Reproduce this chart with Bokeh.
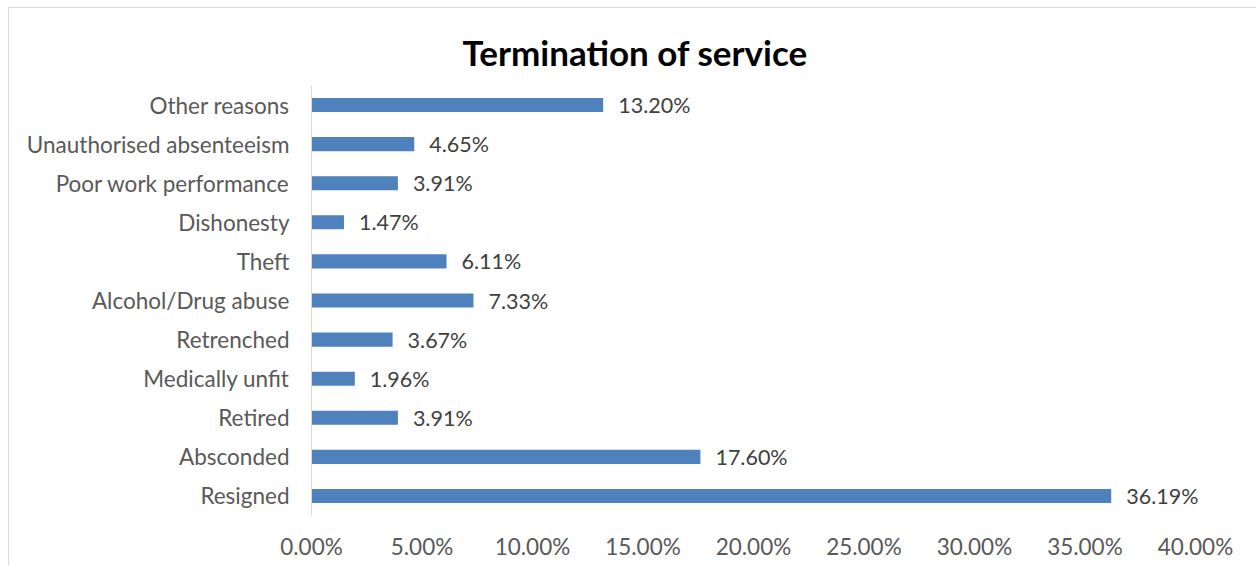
from bokeh.plotting import figure
from bokeh.models import ColumnDataSource, FactorRange, Range1d, FixedTicker, PrintfTickFormatter
from bokeh.core.properties import value
from bokeh.embed import file_html
from bokeh.resources import INLINE

# Data (bottom to top)
categories = ["Resigned", "Absconded", "Retired", "Medically unfit", "Retrenched",
              "Alcohol/Drug abuse", "Theft", "Dishonesty", "Poor work performance",
              "Unauthorised absenteeism", "Other reasons"]
values = [36.19, 17.60, 3.91, 1.96, 3.67, 7.33, 6.11, 1.47, 3.91, 4.65, 13.20]
labels = ["%.2f%%" % v for v in values]
x_ticks = [0, 5, 10, 15, 20, 25, 30, 35, 40]

FONT = "Lato"

src = ColumnDataSource(dict(cat=categories, val=values, lab=labels))

p = figure(width=1248, height=558, output_backend="svg", toolbar_location=None,
           y_range=FactorRange(*categories, range_padding=0), x_range=Range1d(0, 41),
           min_border_left=302, min_border_right=40, min_border_top=77, min_border_bottom=51,
           title="Termination of service")
p.styles = {"margin-left": "8px", "margin-top": "7px",
            "border-top": "1px solid #d9d9d9", "border-left": "1px solid #d9d9d9"}
p.outline_line_color = None
p.grid.visible = False

p.hbar(y="cat", right="val", left=0, height=0.36, source=src,
       fill_color="#4f81bd", line_color=None)
p.text(x="val", y="cat", text="lab", source=src, x_offset=15,
       text_align="left", text_baseline="middle", text_font=value(FONT),
       text_font_size="21.5px", text_color="#404040")

p.title.text_font = FONT
p.title.text_font_size = "35px"
p.title.text_font_style = "bold"
p.title.text_color = "#000000"
p.title.align = "left"
p.title.offset = 151
p.title.standoff = 26

ya = p.yaxis[0]
ya.axis_line_color = "#d9d9d9"
ya.major_tick_line_color = None
ya.minor_tick_line_color = None
ya.major_tick_out = 0
ya.major_tick_in = 0
ya.major_label_standoff = 22
ya.major_label_text_font = FONT
ya.major_label_text_font_size = "22.5px"
ya.major_label_text_color = "#595959"

xa = p.xaxis[0]
xa.axis_line_color = None
xa.major_tick_line_color = None
xa.minor_tick_line_color = None
xa.major_tick_out = 0
xa.major_tick_in = 0
xa.ticker = FixedTicker(ticks=x_ticks)
xa.formatter = PrintfTickFormatter(format="%.2f%%")
xa.major_label_standoff = 17
xa.major_label_text_font = FONT
xa.major_label_text_font_size = "22.5px"
xa.major_label_text_color = "#595959"

open("out.html", "w").write(file_html(p, INLINE))
